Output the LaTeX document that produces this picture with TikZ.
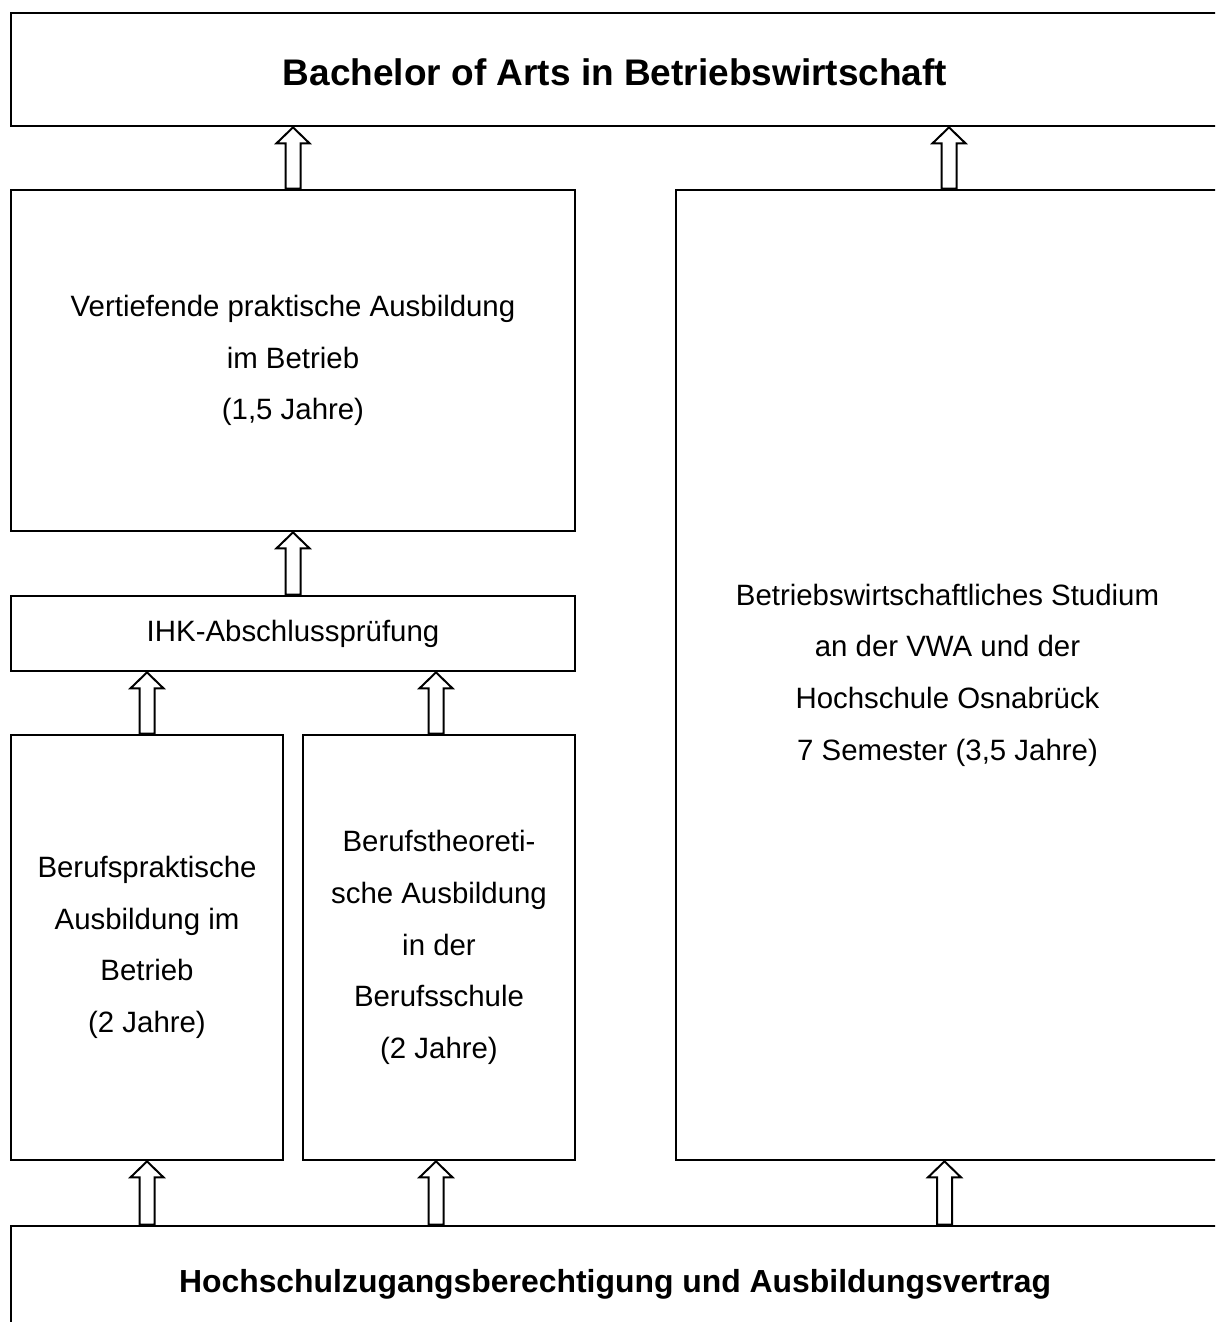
\documentclass[tikz,border=0pt]{standalone}
\usepackage{fontspec}
\setmainfont{Liberation Sans}
\usetikzlibrary{calc}
\begin{document}
\begin{tikzpicture}[x=1pt,y=-1pt,
  box/.style={draw,line width=2.7pt,rectangle,inner sep=0pt,align=center,
    font=\fontsize{29.4}{51.7}\selectfont},
  titlebox/.style={box,font=\fontsize{37}{40}\selectfont\bfseries},
  blockarr/.style={draw,line width=2pt,fill=white,to path={
    let \p1=(\tikztostart), \p2=(\tikztotarget) in
    (\x1-7.5pt,\y1) -- (\x1-7.5pt,\y2-16pt) -- (\x1-16.5pt,\y2-16pt) -- (\x1,\y2)
    -- (\x1+16.5pt,\y2-16pt) -- (\x1+7.5pt,\y2-16pt) -- (\x1+7.5pt,\y1) -- cycle}}]
\useasboundingbox (0,0) rectangle (1215,1322);
\clip (0,0) rectangle (1215,1322);
\node[titlebox,text height=31pt,text depth=0pt,minimum width=1208pt,minimum height=113pt] (top) at (615,69.5)
  {Bachelor of Arts in Betriebswirtschaft};
\node[box,minimum width=564pt,minimum height=341pt] (verti) at (293,360.5)
  {Vertiefende praktische Ausbildung\\im Betrieb\\(1,5 Jahre)};
\node[box,minimum width=564pt,minimum height=75pt] (ihk) at (293,633.5)
  {IHK-Abschlussprüfung};
\node[box,minimum width=272pt,minimum height=425pt] (bp) at (147,947.5)
  {Berufspraktische\\Ausbildung im\\Betrieb\\(2 Jahre)};
\node[box,minimum width=272pt,minimum height=425pt] (bt) at (439,947.5)
  {Berufstheoreti-\\sche Ausbildung\\in der\\Berufsschule\\(2 Jahre)};
\node[box,minimum width=543pt,minimum height=970pt] (stud) at (947.5,675)
  {Betriebswirtschaftliches Studium\\an der VWA und der\\Hochschule Osnabrück\\7 Semester (3,5 Jahre)};
\node[titlebox,font=\fontsize{31.9}{36}\selectfont\bfseries,text height=20.4pt,text depth=0pt,minimum width=1208pt,minimum height=113pt] (bot) at (615,1282.5)
  {Hochschulzugangsberechtigung und Ausbildungsvertrag};
\draw[blockarr] (verti.north) to (verti.north |- top.south);
\draw[blockarr] ([xshift=1.5pt]stud.north) to ([xshift=1.5pt]stud.north |- top.south);
\draw[blockarr] (ihk.north) to (ihk.north |- verti.south);
\draw[blockarr] (bp.north) to (bp.north |- ihk.south);
\draw[blockarr] ([xshift=-3pt]bt.north) to ([xshift=-3pt]bt.north |- ihk.south);
\draw[blockarr] (bp.north |- bot.north) to (bp.south);
\draw[blockarr] ([xshift=-3pt]bt.north |- bot.north) to ([xshift=-3pt]bt.south);
\draw[blockarr] ([xshift=-3pt]stud.north |- bot.north) to ([xshift=-3pt]stud.south);
\end{tikzpicture}
\end{document}
